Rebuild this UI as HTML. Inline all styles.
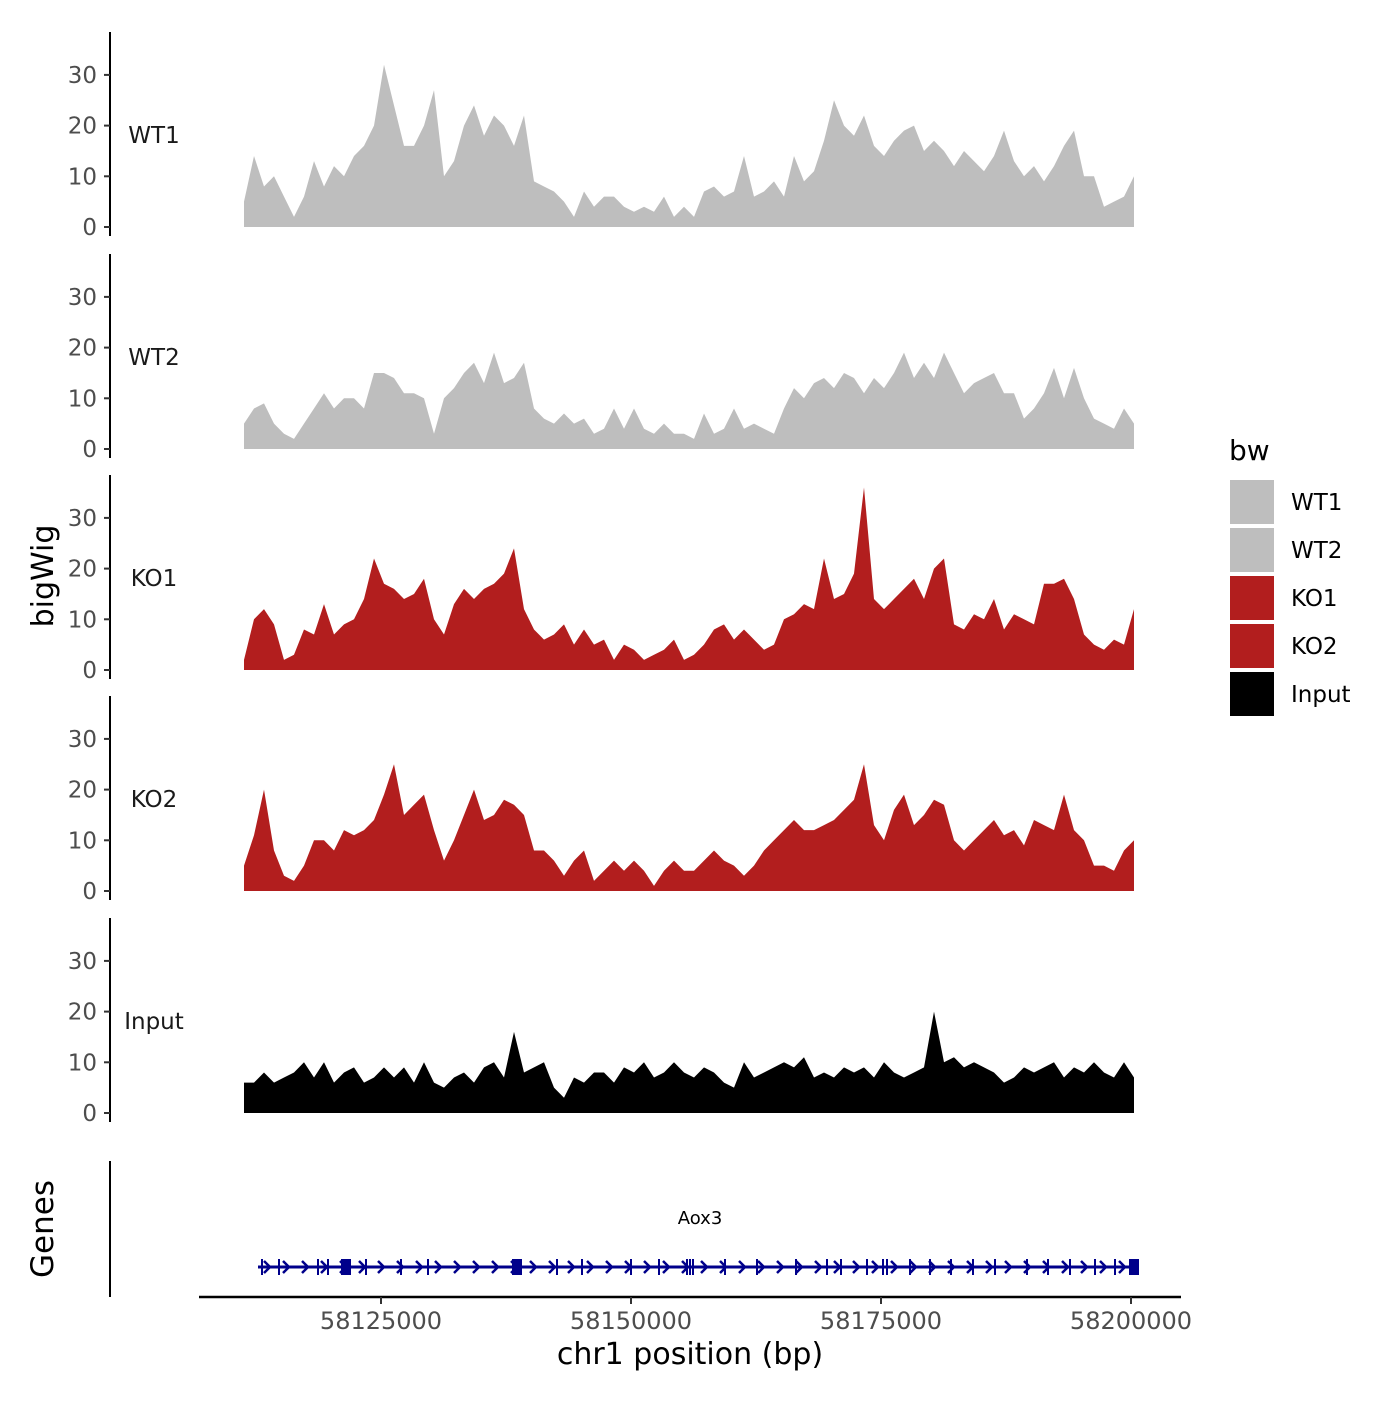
<!DOCTYPE html>
<html><head><meta charset="utf-8"><style>
html,body{margin:0;padding:0;background:#fff;}
svg text{font-family:"DejaVu Sans","Liberation Sans",sans-serif;}
</style></head><body>
<svg id="chart" width="1400" height="1400" viewBox="0 0 1400 1400" xmlns="http://www.w3.org/2000/svg">
<rect width="1400" height="1400" fill="#fff"/>
<g id="tracks"></g>
<g id="genes"></g>
<g id="axes"></g>
</svg>
<script>
const startBp = 58111300;
const binBp = 1000;
const trackNames = ["WT1","WT2","KO1","KO2","Input"];
const trackColors = ["#bebebe","#bebebe","#b21e1e","#b21e1e","#000000"];
const wt1 = [5,14,8,10,6,2,6,13,8,12,10,14,16,20,32,24,16,16,20,27,10,13,20,24,18,22,20,16,22,9,8,7,5,2,7,4,6,6,4,3,4,3,6,2,4,2,7,8,6,7,14,6,7,9,6,14,9,11,17,25,20,18,22,16,14,17,19,20,15,17,15,12,15,13,11,14,19,13,10,12,9,12,16,19,10,10,4,5,6,10];
const wt2 = [5,8,9,5,3,2,5,8,11,8,10,10,8,15,15,14,11,11,10,3,10,12,15,17,13,19,13,14,17,8,6,5,7,5,6,3,4,8,4,8,4,3,5,3,3,2,7,3,4,8,4,5,4,3,8,12,10,13,14,12,15,14,11,14,12,15,19,14,17,14,19,15,11,13,14,15,11,11,6,8,11,16,10,16,10,6,5,4,8,5];
const ko1 = [2,10,12,9,2,3,8,7,13,7,9,10,14,22,17,16,14,15,18,10,7,13,16,14,16,17,19,24,12,8,6,7,9,5,8,5,6,2,5,4,2,3,4,6,2,3,5,8,9,6,8,6,4,5,10,11,13,12,22,14,15,19,36,14,12,14,16,18,14,20,22,9,8,11,10,14,8,11,10,9,17,17,18,14,7,5,4,6,5,12];
const ko2 = [5,11,20,8,3,2,5,10,10,8,12,11,12,14,19,25,15,17,19,12,6,10,15,20,14,15,18,17,15,8,8,6,3,6,8,2,4,6,4,6,4,1,4,6,4,4,6,8,6,5,3,5,8,10,12,14,12,12,13,14,16,18,25,13,10,16,19,13,15,18,17,10,8,10,12,14,11,12,9,14,13,12,19,12,10,5,5,4,8,10];
const input = [6,6,8,6,7,8,10,7,10,6,8,9,6,7,9,7,9,6,10,6,5,7,8,6,9,10,7,16,8,9,10,5,3,7,6,8,8,6,9,8,10,7,8,10,8,7,9,8,6,5,10,7,8,9,10,9,11,7,8,7,9,8,9,7,10,8,7,8,9,20,10,11,9,10,9,8,6,7,9,8,9,10,7,9,8,10,8,7,10,7];
const trackData = [wt1,wt2,ko1,ko2,input];
const yTicks = [0,10,20,30];
const xTicks = [58125000,58150000,58175000,58200000];
const geneStart = 58112700, geneEnd = 58200400;
const exonBp = [58113100,58114800,58118700,58119700,58123500,58127000,58129700,58142600,58145100,58150000,58152800,58155600,58155900,58156200,58159400,58162600,58166500,58169600,58171000,58173600,58175200,58175600,58177900,58179900,58182000,58184200,58186400,58189600,58191700,58193900,58196400,58198400];
const bigExonBp = [58121500,58138600,58200300];

const NS="http://www.w3.org/2000/svg";
function mk(tag,attrs,parent){const e=document.createElementNS(NS,tag);for(const k in attrs)e.setAttribute(k,attrs[k]);parent.appendChild(e);return e;}
const xScale = bp => 381 + (bp-58125000)/100;
const zeroY = [227,449,670,891,1113];
const pxPerUnit = 5.07;
const tracksG=document.getElementById('tracks');
const axesG=document.getElementById('axes');
const genesG=document.getElementById('genes');

trackData.forEach((vals,t)=>{
  const y0=zeroY[t];
  const yS = v => y0 - v*pxPerUnit;
  let d=`M${xScale(startBp)},${y0}`;
  vals.forEach((v,i)=>{d+=` L${xScale(startBp+i*binBp)},${yS(v)}`;});
  d+=` L${xScale(startBp+(vals.length-1)*binBp)},${y0} Z`;
  const p=mk('path',{d:d,fill:trackColors[t]},tracksG);
  
  
  const al=mk('line',{x1:110,x2:110,y1:y0-195,y2:y0+9,stroke:'#000','stroke-width':2},axesG);
  
  
  yTicks.forEach(v=>{
    const ty=yS(v);
    const tk=mk('line',{x1:104,x2:110,y1:ty,y2:ty,stroke:'#333','stroke-width':2},axesG);
    
    
    const tl=mk('text',{x:97,y:ty+8,'text-anchor':'end','font-size':23,fill:'#4d4d4d'},axesG);
    tl.textContent=v;
    
    
  });
  const sl=mk('text',{x:154,y:y0-84,'text-anchor':'middle','font-size':23,fill:'#1a1a1a'},axesG);
  sl.textContent=trackNames[t];
  
  
});

const gy=1267;
const gl=mk('line',{x1:xScale(geneStart),x2:xScale(geneEnd),y1:gy,y2:gy,stroke:'#00008b','stroke-width':3},genesG);


for(let bp=geneStart+1000; bp<geneEnd; bp+=1900){
  const ax=xScale(bp);
  const ar=mk('path',{d:`M${ax-4},${gy-6} L${ax+2},${gy} L${ax-4},${gy+6}`,fill:'none',stroke:'#00008b','stroke-width':2.5},genesG);
  
  
}
exonBp.forEach(bp=>{
  const ex=mk('rect',{x:xScale(bp)-1,y:gy-8,width:2,height:16,fill:'#00008b'},genesG);
  
  
});
bigExonBp.forEach(bp=>{
  const ex=mk('rect',{x:xScale(bp)-5,y:gy-8,width:10,height:16,fill:'#00008b'},genesG);
  
  
});
const gname=mk('text',{x:700,y:1224,'text-anchor':'middle','font-size':18,fill:'#000'},genesG);
gname.textContent='Aox3';


const ga=mk('line',{x1:110,x2:110,y1:1161,y2:1297,stroke:'#000','stroke-width':2},axesG);



const xa=mk('line',{x1:199,x2:1181,y1:1297,y2:1297,stroke:'#000','stroke-width':2.5},axesG);


xTicks.forEach(bp=>{
  const x=xScale(bp);
  const tk=mk('line',{x1:x,x2:x,y1:1297,y2:1304,stroke:'#333','stroke-width':2},axesG);
  
  
  const tl=mk('text',{x:x,y:1329,'text-anchor':'middle','font-size':24,fill:'#4d4d4d'},axesG);
  tl.textContent=bp;
  
  
});
const xt=mk('text',{x:690,y:1364,'text-anchor':'middle','font-size':30,fill:'#000'},axesG);
xt.textContent='chr1 position (bp)';


const yt=mk('text',{x:53,y:576,'text-anchor':'middle','font-size':30,fill:'#000',transform:'rotate(-90 53 576)'},axesG);
yt.textContent='bigWig';


const gt=mk('text',{x:53,y:1229,'text-anchor':'middle','font-size':31,fill:'#000',transform:'rotate(-90 53 1229)'},axesG);
gt.textContent='Genes';



const lt=mk('text',{x:1229,y:460,'font-size':28,fill:'#000'},axesG);
lt.textContent='bw';


trackNames.forEach((n,i)=>{
  const ky=480+i*48;
  const kr=mk('rect',{x:1230,y:ky,width:44,height:44,fill:trackColors[i]},axesG);
  
  
  const kt=mk('text',{x:1291,y:ky+30,'font-size':23,fill:'#000'},axesG);
  kt.textContent=n;
  
  
});
</script>
</body></html>
